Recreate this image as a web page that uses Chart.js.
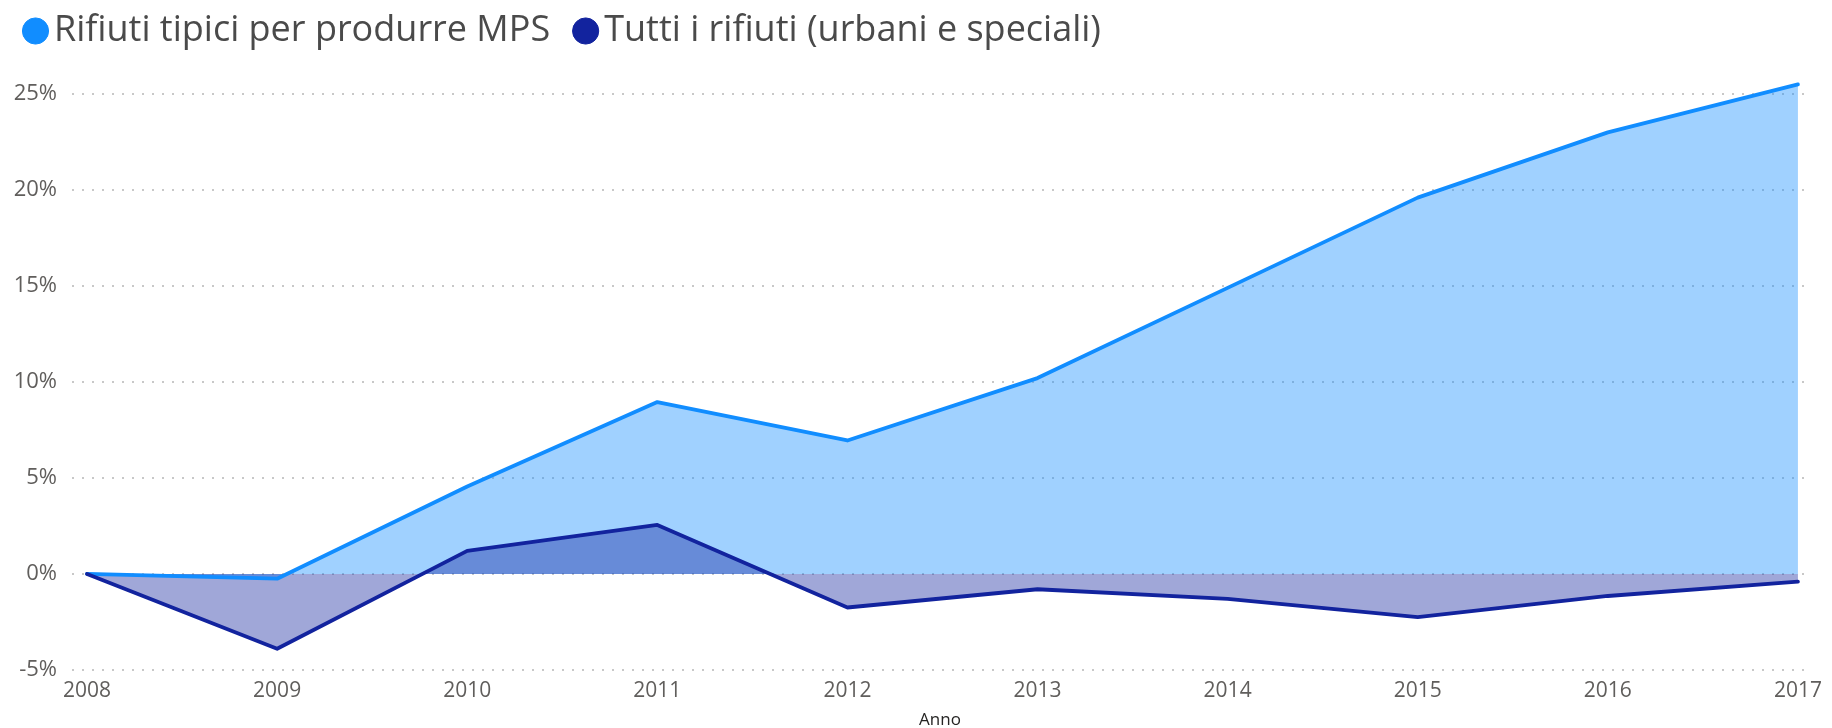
<!DOCTYPE html>
<html>
<head>
<meta charset="utf-8">
<script src="https://cdn.jsdelivr.net/npm/chart.js@4.4.1/dist/chart.umd.min.js"></script>
<style>
    html, body { margin: 0; padding: 0; background: #fff; }
    #wrap { width: 1832px; height: 728px; position: relative; }
</style>
</head>
<body>
<div id="wrap"><canvas id="rifiutiChart"></canvas></div>
<script>
// Anni sull'asse X
const years = ['2008', '2009', '2010', '2011', '2012', '2013', '2014', '2015', '2016', '2017'];

// Variazione % rispetto al 2008
const mpsWaste = [0, -0.25, 4.55, 8.95, 6.95, 10.2, 14.9, 19.6, 23.0, 25.5];
const allWaste = [0, -3.9, 1.2, 2.55, -1.75, -0.8, -1.3, -2.25, -1.15, -0.4];

const yTicks = [-5, 0, 5, 10, 15, 20, 25];

const mpsLabel = 'Rifiuti tipici per produrre MPS';
const allLabel = 'Tutti i rifiuti (urbani e speciali)';

const FONT = "'Open Sans', 'Noto Sans', sans-serif";

const ctx = document.getElementById('rifiutiChart').getContext('2d');
const rifiutiChart = new Chart(ctx, {
    type: 'line',
    data: {
        labels: years,
        datasets: [
            {
                label: mpsLabel,
                data: mpsWaste,
                borderColor: '#118DFF',
                backgroundColor: 'rgba(17, 141, 255, 0.4)',
                pointBackgroundColor: '#118DFF',
                fill: 'origin',
                order: 1
            },
            {
                label: allLabel,
                data: allWaste,
                borderColor: '#12239E',
                backgroundColor: 'rgba(18, 35, 158, 0.4)',
                pointBackgroundColor: '#12239E',
                fill: 'origin',
                order: 0
            }
        ]
    },
    options: {
        responsive: true,
        maintainAspectRatio: false,
        animation: false,
        layout: { padding: { left: 0, right: 24, top: -22, bottom: -2.5 } },
        elements: {
            line: { borderWidth: 3.8, tension: 0, borderJoinStyle: 'round', borderCapStyle: 'round' },
            point: { radius: 0, hoverRadius: 0 }
        },
        plugins: {
            filler: { drawTime: 'beforeDatasetsDraw' },
            tooltip: { enabled: false },
            legend: {
                position: 'top',
                align: 'start',
                labels: {
                    usePointStyle: true,
                    pointStyle: 'circle',
                    boxWidth: 1,
                    boxHeight: 18.5,
                    padding: 35,
                    color: '#4A4A4A',
                    font: { family: FONT, size: 36 },
                    sort: (a, b) => a.datasetIndex - b.datasetIndex
                }
            }
        },
        scales: {
            x: {
                type: 'linear',
                min: 2007.921,
                max: 2017.053,
                afterBuildTicks: (scale) => {
                    scale.ticks = years.map(y => ({ value: Number(y) }));
                },
                grid: { display: false, drawTicks: false },
                border: { display: false },
                ticks: {
                    color: '#605E5C',
                    font: { family: FONT, size: 21 },
                    maxRotation: 0,
                    autoSkip: false,
                    padding: 9,
                    callback: (v) => String(v)
                },
                title: {
                    display: true,
                    text: 'Anno',
                    color: '#252423',
                    font: { family: FONT, size: 17 },
                    padding: { top: -3, bottom: 0 }
                }
            },
            y: {
                min: -5,
                max: 26.82,
                afterBuildTicks: (scale) => {
                    scale.ticks = yTicks.map(v => ({ value: v }));
                },
                afterFit: (scale) => { scale.width = 72; },
                grid: {
                    color: '#C8C8C8',
                    lineWidth: 2,
                    drawTicks: false
                },
                border: { display: false, dash: [2, 8] },
                ticks: {
                    color: '#605E5C',
                    font: { family: FONT, size: 22 },
                    padding: 15,
                    callback: (v) => v + '%'
                }
            }
        }
    }
});
</script>
</body>
</html>
